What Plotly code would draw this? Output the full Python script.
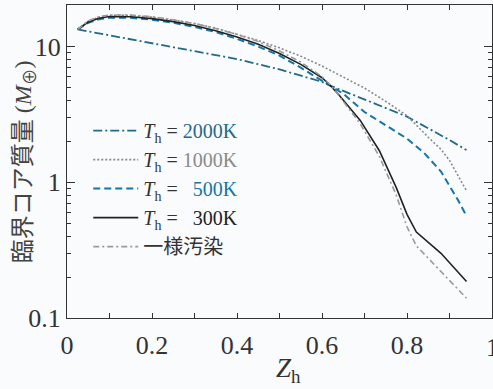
import plotly.graph_objects as go

# ---- data ----
x_300 = [0.025, 0.05, 0.075, 0.1, 0.15, 0.2, 0.25, 0.3, 0.35, 0.4, 0.45, 0.5, 0.55, 0.6, 0.62, 0.64, 0.69, 0.735, 0.775, 0.8, 0.822, 0.88, 0.94]
y_300 = [13.4, 15.2, 16.2, 16.7, 16.6, 16.1, 15.3, 14.3, 13.1, 11.8, 10.4, 8.9, 7.4, 5.9, 5.15, 4.4, 2.86, 1.71, 0.91, 0.58, 0.43, 0.30, 0.186]

x_uni = x_300
y_uni = [13.4, 15.5, 16.6, 17.1, 17.1, 16.6, 15.8, 14.8, 13.6, 12.3, 10.9, 9.3, 7.7, 6.0, 5.2, 4.35, 2.7, 1.55, 0.8, 0.47, 0.34, 0.22, 0.14]

x_500 = [0.025, 0.05, 0.075, 0.1, 0.15, 0.2, 0.25, 0.3, 0.35, 0.4, 0.45, 0.5, 0.55, 0.6, 0.62, 0.65, 0.7, 0.75, 0.8, 0.84, 0.88, 0.92, 0.94]
y_500 = [13.4, 15.0, 15.9, 16.3, 16.3, 15.8, 15.0, 14.0, 12.8, 11.4, 10.0, 8.6, 7.0, 5.6, 5.15, 4.5, 3.3, 2.65, 2.1, 1.65, 1.2, 0.74, 0.565]

x_1000 = [0.025, 0.05, 0.075, 0.1, 0.15, 0.2, 0.25, 0.3, 0.35, 0.4, 0.45, 0.5, 0.55, 0.6, 0.65, 0.7, 0.75, 0.8, 0.85, 0.88, 0.9, 0.94]
y_1000 = [13.4, 15.4, 16.5, 17.0, 17.0, 16.5, 15.7, 14.8, 13.7, 12.4, 11.1, 9.8, 8.5, 7.2, 6.0, 4.95, 3.95, 3.1, 2.15, 1.75, 1.45, 0.865]

x_2000 = [0.025, 0.1, 0.2, 0.3, 0.4, 0.5, 0.6, 0.62, 0.7, 0.8, 0.9, 0.94]
y_2000 = [13.4, 12.1, 10.6, 9.3, 8.1, 6.8, 5.5, 5.15, 4.1, 3.05, 2.05, 1.73]

x_tickvals = [0, 0.1, 0.2, 0.3, 0.4, 0.5, 0.6, 0.7, 0.8, 0.9, 1.0]
x_ticktext = ["0", "", "0.2", "", "0.4", "", "0.6", "", "0.8", "", ""]
y_tickvals = [0.1, 1, 10]
y_ticktext = ["0.1", "1", "10"]
y_minor = [0.2, 0.3, 0.4, 0.5, 0.6, 0.7, 0.8, 0.9, 2, 3, 4, 5, 6, 7, 8, 9, 20]

C2000 = "#23698a"
C1000 = "#8a8a8a"
C500 = "#1475a6"
C300 = "#222222"
CUNI = "#9a9a9a"

SERIF = "Liberation Serif, Noto Sans CJK JP"
SP = "\u2007"

def lab(val, color):
    return f"<i>T</i><sub>h</sub> = <span style='color:{color}'>{val}</span>"

fig = go.Figure()
fig.add_trace(go.Scatter(x=x_2000, y=y_2000, mode="lines", name=lab("2000K", C2000),
                         line=dict(color=C2000, width=1.8, dash="9px,3px,2px,3px")))
fig.add_trace(go.Scatter(x=x_1000, y=y_1000, mode="lines", name=lab("1000K", C1000),
                         line=dict(color=C1000, width=1.6, dash="2px,2px")))
fig.add_trace(go.Scatter(x=x_500, y=y_500, mode="lines", name=lab(SP + "500K", C500),
                         line=dict(color=C500, width=2.0, dash="7px,4px")))
fig.add_trace(go.Scatter(x=x_300, y=y_300, mode="lines", name=lab(SP + "300K", C300),
                         line=dict(color=C300, width=1.6)))
fig.add_trace(go.Scatter(x=x_uni, y=y_uni, mode="lines", name="<span style='color:#333'>一様汚染</span>",
                         line=dict(color=CUNI, width=1.6, dash="6px,3px,2px,3px")))

fig.update_layout(
    width=493, height=389,
    margin=dict(l=67, r=1, t=5, b=71),
    paper_bgcolor="#f9fbfd", plot_bgcolor="#f9fbfd",
    font=dict(family=SERIF, size=24, color="#333333"),
    showlegend=True,
    legend=dict(x=0.05, y=0.661, xanchor="left", yanchor="top",
                bgcolor="rgba(0,0,0,0)", font=dict(family=SERIF, size=20, color="#333333"),
                itemwidth=45, tracegroupgap=0),
    annotations=[
        dict(text="<i>Z</i><sub>h</sub>", xref="paper", yref="paper", x=0.52, y=-0.165,
             xanchor="center", yanchor="middle", showarrow=False,
             font=dict(family=SERIF, size=27, color="#333")),
        dict(text="臨界コア質量 (<i>M</i><sub>⊕</sub>)", xref="paper", yref="paper",
             x=-0.1, y=0.499, xanchor="center", yanchor="middle", textangle=-90, showarrow=False,
             font=dict(family=SERIF, size=24, color="#444")),
        dict(text="1", xref="paper", yref="paper", x=1.0, y=-0.095,
             xanchor="center", yanchor="middle", showarrow=False,
             font=dict(family=SERIF, size=26, color="#333")),
    ],
)
fig.update_xaxes(
    range=[0, 1], tickvals=x_tickvals, ticktext=x_ticktext, automargin=False,
    ticks="inside", ticklen=5, tickwidth=1, tickcolor="#333",
    showline=True, linecolor="#333", linewidth=1.2, mirror="allticks",
    showgrid=False, zeroline=False, ticklabelstandoff=4,
    tickfont=dict(family=SERIF, size=26, color="#333"),
)
fig.update_yaxes(
    type="log", range=[-1, 1.307], tickvals=y_tickvals, ticktext=y_ticktext, automargin=False,
    ticks="inside", ticklen=8, tickwidth=1, tickcolor="#333",
    minor=dict(tickvals=y_minor, ticks="inside", ticklen=4, tickcolor="#333", showgrid=False),
    showline=True, linecolor="#333", linewidth=1.2, mirror="allticks",
    showgrid=False, zeroline=False,
    tickfont=dict(family=SERIF, size=26, color="#333"),
)

fig.write_html("out.html", config={"displayModeBar": False},
               post_script="document.body.style.margin='0';document.body.style.overflow='hidden';")
